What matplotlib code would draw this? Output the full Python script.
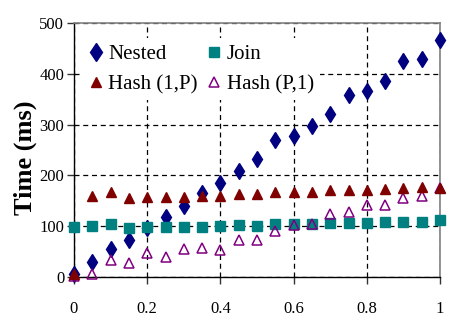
import matplotlib
matplotlib.use("Agg")
import matplotlib.pyplot as plt

x = [0, 0.05, 0.1, 0.15, 0.2, 0.25, 0.3, 0.35, 0.4, 0.45, 0.5,
     0.55, 0.6, 0.65, 0.7, 0.75, 0.8, 0.85, 0.9, 0.95, 1.0]
nested = [5, 30, 55, 73, 97, 118, 140, 165, 186, 209, 233,
          270, 277, 297, 320, 358, 367, 386, 425, 430, 467]
join = [98, 100, 104, 96, 98, 98, 98, 98, 100, 103, 101,
        104, 104, 104, 106, 106, 107, 109, 109, 109, 112]
hash_1p = [5, 160, 167, 156, 157, 157, 158, 160, 160, 163, 164,
           167, 168, 168, 171, 171, 171, 173, 175, 177, 175]
hash_p1 = [2, 6, 33, 27, 47, 40, 56, 58, 54, 73, 73,
           90, 102, 104, 125, 127, 142, 142, 155, 160, 175]

xticks = [0, 0.2, 0.4, 0.6, 0.8, 1]
xticklabels = ["0", "0.2", "0.4", "0.6", "0.8", "1"]
yticks = [0, 100, 200, 300, 400, 500]
ylabel = "Time (ms)"

plt.rcParams['font.family'] = ['Liberation Serif', 'DejaVu Serif']

fig = plt.figure(figsize=(4.51, 3.28), dpi=100)
ax = fig.add_axes([74/451, 1-277/328, (440-74)/451, (277-23)/328])

ax.set_xlim(0, 1)
ax.set_ylim(0, 500)

h_nested, = ax.plot(x, nested, ls='none', marker='d', ms=8.5, color='#000080',
                    mec='#000080', label='Nested', clip_on=False, zorder=3)
h_join, = ax.plot(x, join, ls='none', marker='s', ms=6.5, color='#008080',
                  mec='#008080', label='Join', clip_on=False, zorder=3.2)
h_p1, = ax.plot(x, hash_p1, ls='none', marker='^', ms=6.5, mfc='none',
                mec='#800080', mew=1.1, label='Hash (P,1)', clip_on=False,
                zorder=3.4)
h_1p, = ax.plot(x, hash_1p, ls='none', marker='^', ms=6.5, color='#800000',
                mec='#800000', label='Hash (1,P)', clip_on=False, zorder=3.6)

ax.set_xticks(xticks)
ax.set_xticklabels(xticklabels)
ax.set_yticks(yticks)
ax.tick_params(axis='both', labelsize=12, direction='out', length=5, width=1,
               color='#333333')
ax.tick_params(axis='x', pad=12)
ax.tick_params(axis='y', pad=2)

ax.grid(True, color='black', ls=(0, (4, 3)), lw=0.9)
ax.set_axisbelow(True)

for s in ['left', 'bottom']:
    ax.spines[s].set_color('black')
    ax.spines[s].set_linewidth(1.0)
for s in ['top', 'right']:
    ax.spines[s].set_color('#808080')
    ax.spines[s].set_linewidth(1.2)

ax.set_ylabel(ylabel, fontsize=19, fontweight='bold')
ax.yaxis.set_label_coords(-0.10, 0.47)

leg = ax.legend([h_nested, h_1p, h_join, h_p1],
                ['Nested', 'Hash (1,P)', 'Join', 'Hash (P,1)'],
                loc='upper left', bbox_to_anchor=(0.025, 0.94), ncol=2,
                fontsize=15, frameon=True, facecolor='white', edgecolor='none',
                framealpha=1, fancybox=False, handlelength=0.6,
                handletextpad=0.3, columnspacing=0.5, labelspacing=0.5,
                borderpad=0.3, borderaxespad=0, markerscale=1.1)
leg.set_zorder(5)

fig.savefig('out.png', dpi=100)
